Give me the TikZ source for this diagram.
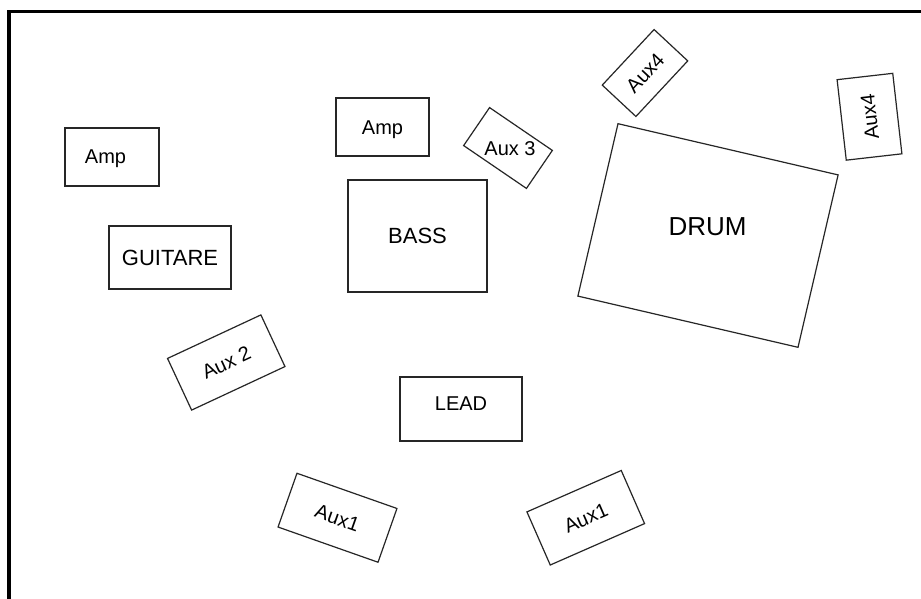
\documentclass[tikz,border=0pt]{standalone}
\usepackage{fontspec}
\setmainfont{Liberation Sans}
\begin{document}
\begin{tikzpicture}[x=1pt,y=-1pt,
  box/.style={draw=black!85, line width=1.2pt, inner sep=0pt, rectangle},
  fsa/.style={font=\fontsize{20}{24}\selectfont, text height=14.3pt, text depth=0pt, inner sep=0pt},
  fsb/.style={font=\fontsize{22}{26}\selectfont, text height=15.8pt, text depth=0pt, inner sep=0pt},
  fsc/.style={font=\fontsize{26}{30}\selectfont, text height=18.7pt, text depth=0pt, inner sep=0pt}]
\useasboundingbox (0,0) rectangle (921,599);
\fill[white] (0,0) rectangle (921,599);
% frame
\coordinate (fbl) at (8.7,602);
\coordinate (ftl) at (8.7,11.7);
\coordinate (ftr) at (924,11.7);
\draw[line width=3.6pt] (fbl) -- (ftl) -- (ftr);
% left amp
\node[box, minimum width=94pt, minimum height=58pt] (ampL) at (112,157) {};
\node[fsa] (ampLtext) at (105.5,156.5) {Amp};
% guitare
\node[box, fsb, minimum width=122pt, minimum height=63pt] (guitare) at (170,257.5) {GUITARE};
% center amp
\node[box, fsa, minimum width=93pt, minimum height=58pt] (ampC) at (382.5,127) {Amp};
% bass
\node[box, fsb, minimum width=139pt, minimum height=112pt] (bass) at (417.5,236) {BASS};
% lead
\node[box, minimum width=122pt, minimum height=64pt] (lead) at (461,409) {};
\node[fsa] (leadtext) at (461,403) {LEAD};
% drum
\node[box, minimum width=226pt, minimum height=177pt, rotate=-13.1] (drum) at (708,235.5) {};
\node[fsc] (drumtext) at (707.5,226) {DRUM};
% aux 3
\node[box, minimum width=76pt, minimum height=46pt, rotate=-34.3] (aux3) at (508,148) {};
\node[fsa] (aux3text) at (510,148) {Aux 3};
% aux4 top
\node[box, fsa, minimum width=76pt, minimum height=46pt, rotate=47] (aux4a) at (645,73) {Aux4};
% aux4 right
\node[box, fsa, minimum width=81pt, minimum height=56pt, rotate=96.5] (aux4b) at (869.5,116.75) {Aux4};
% aux 2
\node[box, fsa, minimum width=103pt, minimum height=57pt, rotate=25] (aux2) at (226.25,362.5) {Aux 2};
% aux1 left
\node[box, fsa, minimum width=106pt, minimum height=57pt, rotate=-19.4] (aux1a) at (337.5,517.75) {Aux1};
% aux1 right
\node[box, fsa, minimum width=103pt, minimum height=58pt, rotate=23.7] (aux1b) at (585.75,517.75) {Aux1};
\end{tikzpicture}
\end{document}
